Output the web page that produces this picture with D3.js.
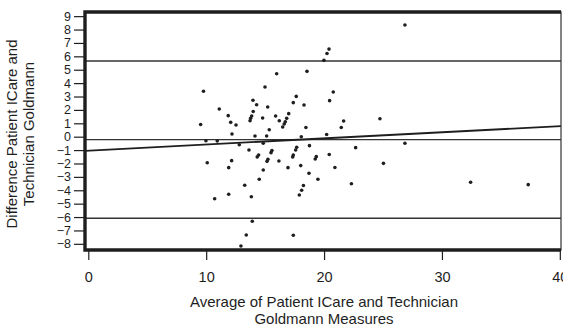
<!DOCTYPE html>
<html>
<head>
<meta charset="utf-8">
<script src="https://cdn.jsdelivr.net/npm/d3@7"></script>
<style>
  body { margin: 0; background: #fff; }
  svg { display: block; font-family: "Liberation Sans", Arial, sans-serif; }
</style>
</head>
<body>
<svg id="chart" width="563" height="327"></svg>
<script>
// average of the two measures (x) and their difference (y)
var avgValues = [20.42, 20.25, 19.99, 15.98, 18.55, 9.77, 14.99, 20.78, 13.97, 14.28,
   17.64, 17.39, 20.47, 11.11, 15.22, 18.30, 11.87, 13.99, 13.86, 13.77,
   13.72, 14.79, 15.89, 16.20, 17.00, 16.83, 16.71, 16.62, 12.08, 12.53,
   9.53, 15.35, 16.49, 18.46, 21.66, 21.46, 24.74, 12.19, 14.14, 15.13,
   18.07, 20.22, 9.98, 10.94, 12.81, 14.84, 13.63, 14.45, 14.33, 15.58,
   15.50, 17.68, 17.59, 17.39, 17.34, 18.76, 22.68, 15.24, 15.16, 16.17,
   19.34, 19.25, 20.44, 10.09, 12.16, 11.91, 14.84, 16.94, 18.02, 20.92,
   18.72, 14.50, 19.48, 13.27, 18.25, 18.10, 17.90, 22.32, 11.91, 10.72,
   13.83, 13.91, 13.40, 17.39, 12.95, 26.86, 26.86, 25.04, 32.43, 37.32]
var diffValues = [6.54, 6.21, 5.70, 4.70, 4.88, 3.39, 3.71, 3.34, 2.72, 2.39,
   3.01, 2.54, 2.69, 2.07, 2.22, 2.37, 1.57, 1.88, 1.54, 1.37,
   1.19, 1.40, 1.54, 1.19, 1.72, 1.37, 1.12, 0.95, 1.07, 0.87,
   0.91, 0.52, 0.72, 0.69, 1.17, 0.69, 1.34, 0.20, 0.05, 0.05,
   0.00, 0.16, -0.30, -0.32, -0.60, -0.49, -0.99, -1.37, -1.51, -1.04,
   -1.19, -0.79, -0.99, -1.37, -1.51, -0.67, -0.82, -1.69, -1.84, -1.81,
   -1.49, -1.66, -1.33, -1.94, -1.79, -2.31, -2.49, -2.31, -2.16, -2.30,
   -2.73, -3.18, -3.18, -3.63, -3.64, -4.00, -4.35, -3.51, -4.30, -4.63,
   -4.48, -6.31, -7.34, -7.36, -8.16, 8.34, -0.49, -1.99, -3.40, -3.58]

var xTicks = [0, 10, 20, 30, 40]
var yTicks = [-8, -7, -6, -5, -4, -3, -2, -1, 0, 1, 2, 3, 4, 5, 6, 7, 8, 9]

// horizontal reference lines: mean difference and limits of agreement
var refLines = [5.65, -0.22, -6.09]
// fitted trend of difference against average
var trendIntercept = -1.04
var trendSlope = 0.0457

var points = avgValues.map((d, i) => ({ avg: d, diff: diffValues[i] }))

var plot = { left: 85, right: 561, top: 12, bottom: 250 }
var xScale = d3.scaleLinear().domain([-0.28, 40.1]).range([plot.left, plot.right])
var yScale = d3.scaleLinear().domain([-8.46, 9.31]).range([plot.bottom, plot.top])

var svg = d3.select("#chart")
var ink = "#1e1e1e"

// axes
var yAxis = d3.axisLeft(yScale)
   .tickValues(yTicks)
   .tickSize(10)
   .tickPadding(3)
   .tickFormat(d => d < 0 ? "\u2212" + Math.abs(d) : d)
var xAxis = d3.axisBottom(xScale)
   .tickValues(xTicks)
   .tickSize(9)
   .tickPadding(12)

svg.append("g")
   .attr("class", "y-axis")
   .attr("transform", "translate(" + (plot.left - 1) + ",0)")
   .call(yAxis)

svg.append("g")
   .attr("class", "x-axis")
   .attr("transform", "translate(0," + (plot.bottom + 1) + ")")
   .call(xAxis)

svg.selectAll(".domain").remove()
svg.selectAll(".tick line").attr("stroke", ink).attr("stroke-width", 1.2)
svg.selectAll(".y-axis text")
   .attr("fill", ink)
   .attr("font-size", 12.5)
   .attr("font-family", "Liberation Sans, Arial, sans-serif")
svg.selectAll(".x-axis text")
   .attr("fill", ink)
   .attr("font-size", 14.5)
   .attr("font-family", "Liberation Sans, Arial, sans-serif")

// reference lines
svg.selectAll(".ref")
   .data(refLines)
   .join("line")
   .attr("class", "ref")
   .attr("x1", plot.left)
   .attr("x2", plot.right)
   .attr("y1", d => yScale(d))
   .attr("y2", d => yScale(d))
   .attr("stroke", "#333")
   .attr("stroke-width", 1.4)

// trend line
svg.append("line")
   .attr("x1", xScale(-0.28))
   .attr("x2", xScale(40.1))
   .attr("y1", yScale(trendIntercept + trendSlope * -0.28))
   .attr("y2", yScale(trendIntercept + trendSlope * 40.1))
   .attr("stroke", ink)
   .attr("stroke-width", 1.8)

// points
svg.selectAll(".pt")
   .data(points)
   .join("circle")
   .attr("class", "pt")
   .attr("cx", d => xScale(d.avg))
   .attr("cy", d => yScale(d.diff))
   .attr("r", 1.8)
   .attr("fill", ink)

// frame, heavier on the top, left and bottom
svg.append("rect")
   .attr("x", plot.left)
   .attr("y", plot.top)
   .attr("width", plot.right - plot.left)
   .attr("height", plot.bottom - plot.top)
   .attr("fill", "none")
   .attr("stroke", "#333")
   .attr("stroke-width", 1.2)
svg.append("path")
   .attr("d", "M" + plot.right + "," + plot.top + "H" + plot.left + "V" + plot.bottom + "H" + plot.right)
   .attr("fill", "none")
   .attr("stroke", ink)
   .attr("stroke-width", 3.4)

// axis titles
var xTitle = svg.append("text")
   .attr("text-anchor", "middle")
   .attr("font-size", 15)
   .attr("fill", ink)
xTitle.append("tspan").attr("x", 324).attr("y", 307).text("Average of Patient ICare and Technician")
xTitle.append("tspan").attr("x", 324).attr("y", 324).text("Goldmann Measures")

var yTitle = svg.append("text")
   .attr("text-anchor", "middle")
   .attr("font-size", 15)
   .attr("fill", ink)
   .attr("transform", "translate(0,134) rotate(-90)")
yTitle.append("tspan").attr("x", 0).attr("y", 17).text("Difference Patient ICare and")
yTitle.append("tspan").attr("x", 0).attr("y", 34).text("Technician Goldmann")
</script>
</body>
</html>
